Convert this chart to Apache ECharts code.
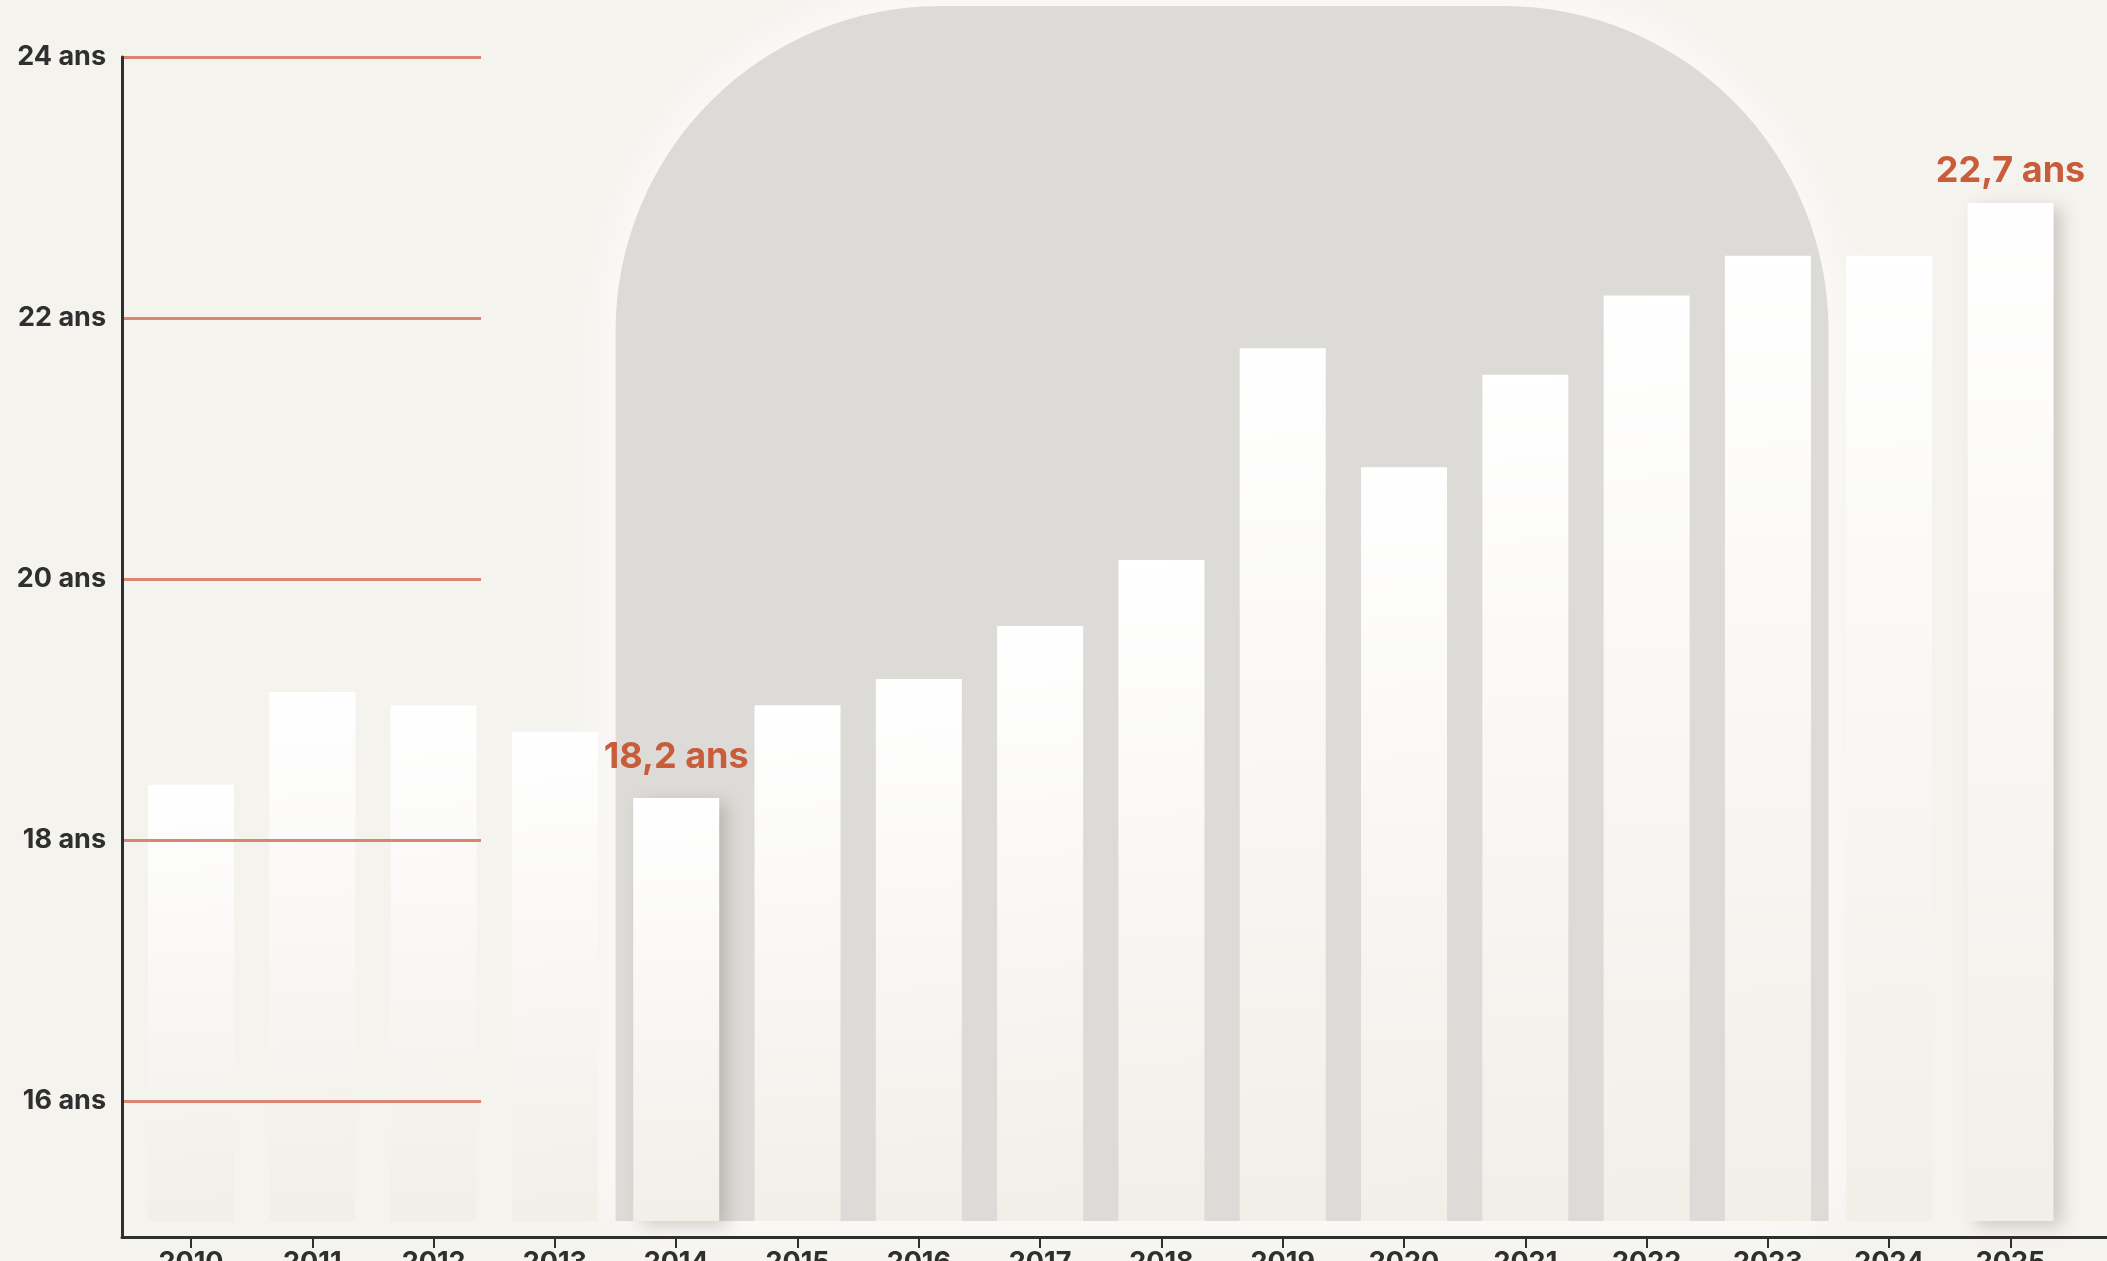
<!DOCTYPE html>
<html lang="fr">
<head>
<meta charset="utf-8">
<title>Âge moyen</title>
<script src="https://cdn.jsdelivr.net/npm/echarts@6/dist/echarts.min.js"></script>
<style>
  html, body { margin: 0; padding: 0; background: #f5f3ee; overflow: hidden; }
  #chart { width: 2107px; height: 1261px; }
</style>
</head>
<body>
<div id="chart"></div>
<script>
// ---- data ----
const years = ['2010','2011','2012','2013','2014','2015','2016','2017','2018','2019','2020','2021','2022','2023','2024','2025'];
const ages = [18.3, 19.0, 18.9, 18.7, 18.2, 18.9, 19.1, 19.5, 20.0, 21.6, 20.7, 21.4, 22.0, 22.3, 22.3, 22.7];
const ageTicks = [14, 16, 18, 20, 22, 24];
const labelledYears = ['2014', '2025'];
const archFrom = '2014';
const archTo = '2023';

// ---- style ----
const FONT = 'Inter, "Open Sans", "DejaVu Sans", sans-serif';
const INK = '#2f2f2f';
const ACCENT = '#c85c3b';
const GRIDRED = '#db8470';
const BAR_BASE = 15;
const labelDistance = { '2014': 23, '2025': 14 };

const fmtAge = v => v.toFixed(1).replace('.', ',') + ' ans';

const chart = echarts.init(document.getElementById('chart'), null, { renderer: 'canvas' });

const barData = ages.map((v, i) => labelledYears.includes(years[i])
  ? { value: v, label: { show: true, distance: labelDistance[years[i]] } }
  : v);

const option = {
  backgroundColor: '#f5f3ee',
  animation: false,
  grid: [
    { left: 130.35, right: 35.8, top: 31, bottom: 40, outerBoundsMode: 'none', containLabel: false },   // bars
    { left: 122, width: 359, top: 57, height: 1305, outerBoundsMode: 'none', containLabel: false },     // red gridlines + y labels
    { left: 122, right: 0, top: 57, bottom: 24, outerBoundsMode: 'none', containLabel: false }          // axis lines
  ],
  xAxis: [
    {
      gridIndex: 0, type: 'category', data: years, offset: 16,
      axisLine: { show: false },
      axisTick: { show: true, alignWithLabel: true, length: 11, lineStyle: { color: INK, width: 2 } },
      axisLabel: { color: INK, fontFamily: FONT, fontWeight: 700, fontSize: 27, margin: 12 },
      splitLine: { show: false }
    },
    {
      gridIndex: 1, type: 'value', min: 0, max: 1, show: false
    },
    {
      gridIndex: 2, type: 'value', min: 0, max: 1,
      axisLine: { show: true, onZero: false, lineStyle: { color: INK, width: 3 } },
      axisTick: { show: false }, axisLabel: { show: false }, splitLine: { show: false }
    }
  ],
  yAxis: [
    {
      gridIndex: 0, type: 'value', min: BAR_BASE, max: ageTicks[ageTicks.length - 1], show: false,
      splitLine: { show: false }
    },
    {
      gridIndex: 1, type: 'value', z: 10,
      min: ageTicks[0], max: ageTicks[ageTicks.length - 1], interval: ageTicks[1] - ageTicks[0],
      axisLine: { show: false }, axisTick: { show: false },
      axisLabel: {
        color: INK, fontFamily: FONT, fontWeight: 700, fontSize: 27, margin: 16,
        padding: [0, 0, 10, 0],
        formatter: v => v + ' ans'
      },
      splitLine: { show: true, lineStyle: { color: GRIDRED, width: 3 } }
    },
    {
      gridIndex: 2, type: 'value', min: 0, max: 1, z: 10,
      axisLine: { show: true, onZero: false, lineStyle: { color: INK, width: 3 } },
      axisTick: { show: false }, axisLabel: { show: false }, splitLine: { show: false }
    }
  ],
  series: [
    {
      type: 'bar', xAxisIndex: 0, yAxisIndex: 0, z: 2,
      data: barData,
      barWidth: 86,
      itemStyle: {
        color: new echarts.graphic.LinearGradient(0, 0, 0.35, 1, [
          { offset: 0, color: '#ffffff' },
          { offset: 1, color: '#f2efe9' }
        ]),
        shadowColor: 'rgba(60, 50, 40, 0.22)',
        shadowBlur: 16,
        shadowOffsetX: 8,
        shadowOffsetY: 5
      },
      label: {
        show: false, position: 'top', distance: 18,
        color: ACCENT, fontFamily: FONT, fontWeight: 700, fontSize: 36,
        formatter: p => fmtAge(p.value)
      }
    }
  ]
};

chart.setOption(option);

// Decorative arch behind the bars, spanning the categories archFrom..archTo
const cFrom = chart.convertToPixel({ xAxisIndex: 0 }, archFrom);
const cNext = chart.convertToPixel({ xAxisIndex: 0 }, years[years.indexOf(archFrom) + 1]);
const cTo = chart.convertToPixel({ xAxisIndex: 0 }, archTo);
const band = cNext - cFrom;
const archLeft = cFrom - band / 2;
const archRight = cTo + band / 2;
const archBottom = chart.convertToPixel({ yAxisIndex: 0 }, BAR_BASE);
const archTop = 6;
const archR = 325;

chart.setOption({
  graphic: [{
    type: 'rect', z: -1, silent: true,
    shape: { x: archLeft, y: archTop, width: archRight - archLeft, height: archBottom - archTop, r: [archR, archR, 0, 0] },
    style: {
      fill: '#dcdbd7',
      shadowColor: 'rgba(255,255,255,0.95)',
      shadowBlur: 60
    }
  }]
});
</script>
</body>
</html>
